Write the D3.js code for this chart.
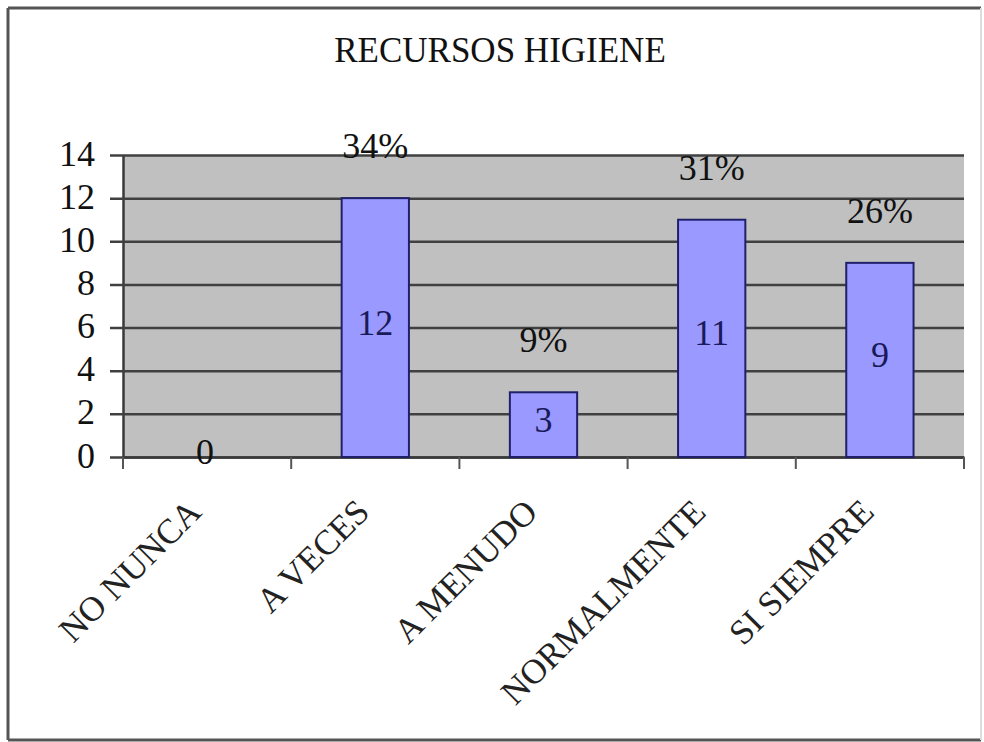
<!DOCTYPE html>
<html><head><meta charset="utf-8">
<script src="https://cdn.jsdelivr.net/npm/d3@7"></script>
<style>body{margin:0;background:#fff}svg{display:block}</style>
</head><body>
<svg id="c" width="984" height="742"></svg>
<script>
const categories = ["NO NUNCA", "A VECES", "A MENUDO", "NORMALMENTE", "SI SIEMPRE"];
const values = [0, 12, 3, 11, 9];
const percentLabels = ["", "34%", "9%", "31%", "26%"];
const yTicks = [0, 2, 4, 6, 8, 10, 12, 14];
const title = "RECURSOS HIGIENE";

const svg = d3.select("#c");
const font = "'Liberation Serif','Times New Roman',serif";
const m = {left: 123, right: 964, top: 155, bottom: 457};

// outer frame
svg.append("rect").attr("x", 0).attr("y", 0).attr("width", 984).attr("height", 742).attr("fill", "#fff");
svg.append("line").attr("x1", 8).attr("x2", 981).attr("y1", 8).attr("y2", 8).attr("stroke", "#555").attr("stroke-width", 3);
svg.append("line").attr("x1", 8).attr("x2", 8).attr("y1", 8).attr("y2", 740).attr("stroke", "#555").attr("stroke-width", 3);
svg.append("line").attr("x1", 8).attr("x2", 981).attr("y1", 740).attr("y2", 740).attr("stroke", "#555").attr("stroke-width", 3);
svg.append("line").attr("x1", 981).attr("x2", 981).attr("y1", 8).attr("y2", 740).attr("stroke", "#ddd").attr("stroke-width", 2);

const x = d3.scaleBand().domain(categories).range([m.left, m.right]).paddingInner(0.6).paddingOuter(0.3);
const xb = d3.scaleBand().domain(categories).range([m.left, m.right]);
const y = d3.scaleLinear().domain([0, 14]).range([m.bottom, m.top]);

// plot background
svg.append("rect").attr("x", m.left).attr("y", m.top).attr("width", m.right - m.left).attr("height", m.bottom - m.top).attr("fill", "#c0c0c0");

// gridlines + y axis
const yAxis = d3.axisLeft(y).tickValues(yTicks).tickSize(-(m.right - m.left)).tickSizeOuter(0).tickPadding(16);
const gy = svg.append("g").attr("transform", `translate(${m.left},0)`).call(yAxis);
gy.select(".domain").attr("stroke", "#3a3a3a").attr("stroke-width", 2.5);
gy.selectAll(".tick line").attr("stroke", "#404040").attr("stroke-width", 2.5).attr("x1", -13);
gy.selectAll(".tick text").attr("font-family", font).attr("font-size", 36).attr("fill", "#111").attr("x", -28).attr("dy", "0.28em");

// x axis
const xAxis = d3.axisBottom(xb).tickSize(0).tickFormat("");
const gx = svg.append("g").attr("transform", `translate(0,${m.bottom})`).call(xAxis);
gx.select(".domain").attr("stroke", "#3a3a3a").attr("stroke-width", 2.5);
// boundary tick marks
const bounds = categories.map(c => xb(c)).concat([xb(categories[categories.length - 1]) + xb.bandwidth()]);
svg.append("g").selectAll("line").data(bounds).join("line")
  .attr("x1", d => d).attr("x2", d => d).attr("y1", m.bottom).attr("y2", m.bottom + 12)
  .attr("stroke", "#555").attr("stroke-width", 2);

// x labels rotated
svg.append("g").selectAll("text").data(categories).join("text")
  .attr("transform", d => `translate(${xb(d) + xb.bandwidth() / 2 - 4},${m.bottom + 57}) rotate(-45)`)
  .attr("text-anchor", "end").attr("font-family", font).attr("font-size", 35).attr("fill", "#222")
  .text(d => d);

// bars
svg.append("g").selectAll("rect").data(values).join("rect")
  .attr("x", (d, i) => x(categories[i]))
  .attr("y", d => y(d))
  .attr("width", x.bandwidth())
  .attr("height", d => y(0) - y(d))
  .attr("fill", "#9999ff").attr("stroke", "#20206a").attr("stroke-width", 2);

// value labels
svg.append("g").selectAll("text").data(values).join("text")
  .attr("x", (d, i) => x(categories[i]) + x.bandwidth() / 2 - (i === 0 ? 2 : 0))
  .attr("y", d => (y(d) + y(0)) / 2 + 7)
  .attr("text-anchor", "middle").attr("font-family", font).attr("font-size", 36)
  .attr("fill", (d, i) => i === 0 ? "#111" : "#1a1a5a")
  .text(d => d);

// percent labels
svg.append("g").selectAll("text").data(values).join("text")
  .attr("x", (d, i) => x(categories[i]) + x.bandwidth() / 2)
  .attr("y", d => y(d) - 40)
  .attr("text-anchor", "middle").attr("font-family", font).attr("font-size", 36).attr("fill", "#111")
  .text((d, i) => percentLabels[i]);

// title
svg.append("text").attr("x", 500).attr("y", 62).attr("text-anchor", "middle")
  .attr("font-family", font).attr("font-size", 35).attr("fill", "#111").text(title);
</script>
</body></html>
